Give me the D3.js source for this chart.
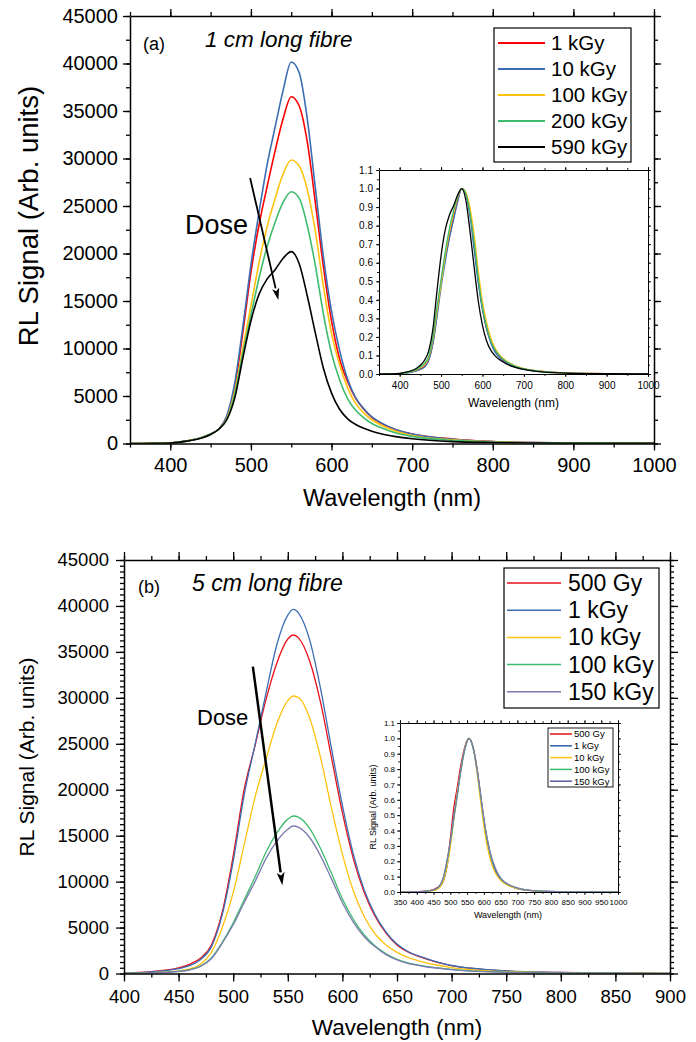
<!DOCTYPE html>
<html>
<head>
<meta charset="utf-8">
<script src="https://cdn.jsdelivr.net/npm/d3@7"></script>
<style>
  body { margin: 0; background: #fff; }
  svg { display: block; }
</style>
</head>
<body>
<div id="chart"></div>
<script>
const FONT = '"Liberation Sans", Arial, Helvetica, sans-serif';

// ---- panel (a): 1 cm long fibre ----
const wlA = [350, 380, 400, 420, 440, 450, 460, 470, 480, 490, 500, 510, 520, 530, 540, 550, 560, 570, 580, 590,
             600, 610, 620, 630, 640, 650, 660, 680, 700, 750, 800, 850, 900, 1000];
const a1kGy   = [0, 10, 60, 250, 650, 1000, 1500, 2800, 6000, 11700, 18000, 23000, 27000, 30800, 34200, 36500, 35500, 31700, 25300, 18550,
                 12900, 8900, 6500, 4750, 3600, 2750, 2200, 1450, 1000, 470, 210, 100, 45, 10];
const a10kGy  = [0, 10, 60, 250, 650, 1000, 1500, 2900, 6400, 12300, 18800, 24300, 29300, 33300, 37200, 40150, 39000, 34100, 26850, 19600,
                 13900, 9800, 6750, 4800, 3650, 2800, 2250, 1450, 1000, 450, 200, 95, 45, 10];
const a100kGy = [0, 10, 60, 250, 650, 1000, 1500, 2600, 5500, 10000, 14500, 19000, 22800, 25800, 28400, 29850, 29200, 26700, 22300, 16500,
                 11600, 8300, 5850, 4200, 3200, 2500, 2000, 1300, 850, 380, 170, 80, 40, 10];
const a200kGy = [0, 10, 60, 250, 650, 1000, 1500, 2500, 5200, 9500, 13500, 17400, 20700, 23300, 25400, 26500, 25800, 22900, 18700, 13600,
                 9500, 6700, 4700, 3500, 2700, 2100, 1700, 1100, 750, 330, 150, 70, 35, 10];
const a590kGy = [0, 10, 60, 250, 600, 950, 1500, 2500, 4800, 9000, 12900, 15700, 17300, 18300, 19500, 20200, 18900, 15500, 11600, 7900,
                 5300, 3600, 2600, 2000, 1600, 1300, 1050, 720, 500, 200, 100, 50, 25, 10];
const namesA = ["1 kGy", "10 kGy", "100 kGy", "200 kGy", "590 kGy"];
const colorsA = ["#ff0000", "#3b6db3", "#ffc20e", "#3dbb6e", "#000000"];
const seriesA = [a1kGy, a10kGy, a100kGy, a200kGy, a590kGy];

// ---- panel (b): 5 cm long fibre ----
const wlB = [350, 400, 425, 450, 460, 470, 480, 490, 500, 510, 520, 530, 540, 550, 555, 560, 570, 580, 590, 600,
             610, 620, 630, 640, 650, 660, 675, 700, 750, 800, 850, 900, 1000];
const b500Gy  = [0, 60, 200, 600, 1000, 1650, 3100, 6700, 12800, 20000, 24800, 29800, 33800, 36400, 36840, 36500, 34000, 29500, 23500, 17500,
                 12500, 8800, 6200, 4400, 3100, 2350, 1650, 850, 280, 110, 50, 20, 0];
const b1kGy   = [0, 50, 180, 520, 850, 1500, 2900, 6400, 12200, 19400, 24900, 30500, 35800, 39000, 39630, 39200, 36300, 31000, 24500, 18300,
                 13000, 9100, 6400, 4500, 3200, 2400, 1700, 870, 290, 110, 50, 20, 0];
const b10kGy  = [0, 30, 100, 280, 500, 1000, 2300, 5000, 8800, 14000, 19200, 23300, 27200, 29700, 30200, 30000, 27800, 23500, 18000, 13000,
                 9000, 6200, 4300, 3100, 2300, 1750, 1200, 650, 200, 80, 40, 15, 0];
const b100kGy = [0, 30, 80, 230, 400, 800, 1700, 3400, 5500, 8000, 10500, 13200, 15300, 16800, 17140, 17000, 15800, 13600, 10900, 8100,
                 5900, 4200, 3000, 2150, 1550, 1150, 800, 450, 140, 60, 30, 10, 0];
const b150kGy = [0, 30, 80, 220, 380, 760, 1600, 3300, 5300, 7700, 10000, 12500, 14400, 15700, 16050, 15900, 14800, 12800, 10300, 7700,
                 5600, 4000, 2900, 2050, 1480, 1100, 760, 430, 130, 55, 25, 10, 0];
const namesB = ["500 Gy", "1 kGy", "10 kGy", "100 kGy", "150 kGy"];
const colorsB = ["#e8101a", "#3b6db3", "#ffc20e", "#3dbb6e", "#7b7bb0"];
const seriesB = [b500Gy, b1kGy, b10kGy, b100kGy, b150kGy];

// dose arrows (data coordinates: start, tip)
const arrowA = [[499, 27950], [534, 15100]];
const arrowB = [[518, 33400], [545, 9600]];

const svg = d3.select("#chart").append("svg")
  .attr("width", 696).attr("height", 1042)
  .style("font-family", FONT);

function drawBox(g, x, y, c) {
  const [x0, x1] = x.range();
  const [yb, yt] = y.range();
  const makers = { bottom: d3.axisBottom, top: d3.axisTop, left: d3.axisLeft, right: d3.axisRight };
  const pos = {
    bottom: `translate(0,${yb})`, top: `translate(0,${yt})`,
    left: `translate(${x0},0)`, right: `translate(${x1},0)`
  };
  ["bottom", "top", "left", "right"].forEach(side => {
    const horiz = side === "bottom" || side === "top";
    const sc = horiz ? x : y;
    // minor ticks
    g.append("g").attr("transform", pos[side])
      .call(makers[side](sc).tickValues(horiz ? c.xMinor : c.yMinor).tickSize(c.minLen).tickFormat(""))
      .call(a => a.select(".domain").remove())
      .selectAll("line").attr("stroke-width", c.tickW);
    const ax = makers[side](sc)
      .tickValues(horiz ? c.xMajor : c.yMajor)
      .tickSize(c.majLen).tickSizeOuter(0)
      .tickPadding(horiz ? c.xPad : c.yPad);
    if (side === "top" || side === "right") ax.tickFormat("");
    else if (!horiz && c.yFmt) ax.tickFormat(c.yFmt);
    else ax.tickFormat(d3.format("d"));
    const a = g.append("g").attr("transform", pos[side]).call(ax)
      .attr("font-family", FONT).attr("font-size", c.font);
    a.select(".domain").attr("stroke-width", c.frameW);
    a.selectAll(".tick line").attr("stroke-width", c.tickW);
  });
}

function drawSeries(g, x, y, wl, series, colors, width, clipId, norm) {
  const line = d3.line()
    .x(d => x(d[0])).y(d => y(d[1]))
    .curve(d3.curveMonotoneX);
  const lg = g.append("g").attr("clip-path", `url(#${clipId})`);
  series.forEach((vals, i) => {
    const m = norm ? d3.max(vals) : 1;
    lg.append("path")
      .datum(d3.zip(wl, vals.map(v => v / m)))
      .attr("d", line)
      .attr("fill", "none")
      .attr("stroke", colors[i])
      .attr("stroke-width", width);
  });
}

function clip(id, x, y) {
  svg.append("clipPath").attr("id", id).append("rect")
    .attr("x", x.range()[0]).attr("y", y.range()[1])
    .attr("width", x.range()[1] - x.range()[0])
    .attr("height", y.range()[0] - y.range()[1]);
}

function drawArrow(g, x, y, pts, w, headLen, headW) {
  const [sx, sy] = [x(pts[0][0]), y(pts[0][1])];
  const [tx, ty] = [x(pts[1][0]), y(pts[1][1])];
  const ang = Math.atan2(ty - sy, tx - sx);
  const bx = tx - headLen * Math.cos(ang), by = ty - headLen * Math.sin(ang);
  g.append("line").attr("x1", sx).attr("y1", sy).attr("x2", bx).attr("y2", by)
    .attr("stroke", "#000").attr("stroke-width", w);
  const px = -Math.sin(ang) * headW, py = Math.cos(ang) * headW;
  g.append("path")
    .attr("d", `M${tx},${ty}L${bx + px},${by + py}L${bx + (tx - bx) * 0.25},${by + (ty - by) * 0.25}L${bx - px},${by - py}Z`)
    .attr("fill", "#000");
}

function drawLegend(g, names, colors, c) {
  g.append("rect").attr("x", c.x).attr("y", c.y).attr("width", c.w).attr("height", c.h)
    .attr("fill", "#fff").attr("stroke", "#000").attr("stroke-width", c.bw);
  names.forEach((n, i) => {
    const yy = c.y0 + i * c.step;
    g.append("line").attr("x1", c.lx0).attr("x2", c.lx1).attr("y1", yy).attr("y2", yy)
      .attr("stroke", colors[i]).attr("stroke-width", c.lw);
    g.append("text").attr("x", c.tx).attr("y", yy).attr("dy", "0.35em")
      .attr("font-size", c.font).text(n);
  });
}

// ================= Panel (a) =================
{
  const x = d3.scaleLinear().domain([350, 1000]).range([130, 654]);
  const y = d3.scaleLinear().domain([0, 45000]).range([443.5, 16]);
  const g = svg.append("g");
  clip("clipA", x, y);
  drawSeries(g, x, y, wlA, seriesA, colorsA, 1.6, "clipA", false);
  drawBox(g, x, y, {
    xMajor: d3.range(400, 1001, 100), xMinor: d3.range(350, 1001, 50),
    yMajor: d3.range(0, 45001, 5000), yMinor: d3.range(0, 45001, 2500),
    majLen: 7, minLen: 4, xPad: 7.5, yPad: 5, font: 20, frameW: 1.5, tickW: 1.3
  });
  g.append("text").attr("x", 143).attr("y", 50).attr("font-size", 18).text("(a)");
  g.append("text").attr("x", 205).attr("y", 47).attr("font-size", 22.5)
    .attr("font-style", "italic").text("1 cm long fibre");
  g.append("text").attr("x", 185).attr("y", 234).attr("font-size", 27).text("Dose");
  drawArrow(g, x, y, arrowA, 1.8, 12, 3.6);
  g.append("text").attr("x", 392).attr("y", 506).attr("text-anchor", "middle")
    .attr("font-size", 23.5).text("Wavelength (nm)");
  g.append("text").attr("transform", "translate(37.5,216) rotate(-90)")
    .attr("text-anchor", "middle").attr("font-size", 27.5).text("RL Signal (Arb. units)");
  drawLegend(g, namesA, colorsA, {
    x: 494, y: 28, w: 137, h: 134, bw: 1.2, y0: 43, step: 26,
    lx0: 498, lx1: 545, tx: 551, font: 20.5, lw: 2
  });

  // inset (normalised spectra)
  const xi = d3.scaleLinear().domain([350, 1000]).range([379, 648]);
  const yi = d3.scaleLinear().domain([0, 1.1]).range([374, 170]);
  g.append("rect").attr("x", 379).attr("y", 170).attr("width", 269).attr("height", 204).attr("fill", "#fff");
  clip("clipAi", xi, yi);
  drawSeries(g, xi, yi, wlA, seriesA, colorsA, 1.3, "clipAi", true);
  drawBox(g, xi, yi, {
    xMajor: d3.range(400, 1001, 100), xMinor: d3.range(350, 1001, 50),
    yMajor: d3.range(0, 11).map(i => i / 10).concat([1.1]), yMinor: d3.range(0, 23).map(i => i / 20),
    majLen: 3, minLen: 2, xPad: 4.5, yPad: 3, font: 10, frameW: 1, tickW: 0.9, yFmt: d3.format(".1f")
  });
  g.append("text").attr("x", 513.5).attr("y", 407).attr("text-anchor", "middle")
    .attr("font-size", 12).text("Wavelength (nm)");
}

// ================= Panel (b) =================
{
  const x = d3.scaleLinear().domain([400, 900]).range([124, 670]);
  const y = d3.scaleLinear().domain([0, 45000]).range([973.5, 560]);
  const g = svg.append("g");
  clip("clipB", x, y);
  drawSeries(g, x, y, wlB, seriesB, colorsB, 1.3, "clipB", false);
  drawBox(g, x, y, {
    xMajor: d3.range(400, 901, 50), xMinor: d3.range(400, 901, 25),
    yMajor: d3.range(0, 45001, 5000), yMinor: d3.range(0, 45001, 625),
    majLen: 8, minLen: 4, xPad: 8.5, yPad: 7, font: 18.5, frameW: 1.5, tickW: 1.3
  });
  g.append("text").attr("x", 138).attr("y", 593).attr("font-size", 18).text("(b)");
  g.append("text").attr("x", 192).attr("y", 591).attr("font-size", 23)
    .attr("font-style", "italic").text("5 cm long fibre");
  g.append("text").attr("x", 197).attr("y", 725).attr("font-size", 22).text("Dose");
  drawArrow(g, x, y, arrowB, 2.5, 13, 4);
  g.append("text").attr("x", 397).attr("y", 1035).attr("text-anchor", "middle")
    .attr("font-size", 22.5).text("Wavelength (nm)");
  g.append("text").attr("transform", "translate(34,757) rotate(-90)")
    .attr("text-anchor", "middle").attr("font-size", 21).text("RL Signal (Arb. units)");
  drawLegend(g, namesB, colorsB, {
    x: 504, y: 568, w: 155, h: 140, bw: 1.2, y0: 583, step: 27.2,
    lx0: 507, lx1: 561, tx: 568, font: 23, lw: 1.5
  });

  // inset (normalised spectra)
  const xi = d3.scaleLinear().domain([350, 1000]).range([400, 618]);
  const yi = d3.scaleLinear().domain([0, 1.1]).range([892, 723]);
  g.append("rect").attr("x", 400).attr("y", 723).attr("width", 218).attr("height", 169).attr("fill", "#fff");
  clip("clipBi", xi, yi);
  drawSeries(g, xi, yi, wlB, seriesB, colorsB, 1.2, "clipBi", true);
  drawBox(g, xi, yi, {
    xMajor: d3.range(350, 1001, 50), xMinor: d3.range(350, 1001, 25),
    yMajor: d3.range(0, 11).map(i => i / 10).concat([1.1]), yMinor: d3.range(0, 23).map(i => i / 20),
    majLen: 3, minLen: 2, xPad: 4, yPad: 2, font: 8, frameW: 1, tickW: 0.8, yFmt: d3.format(".1f")
  });
  g.append("text").attr("x", 508).attr("y", 918).attr("text-anchor", "middle")
    .attr("font-size", 9).text("Wavelength (nm)");
  g.append("text").attr("transform", "translate(376,807) rotate(-90)")
    .attr("text-anchor", "middle").attr("font-size", 9).text("RL Signal (Arb. units)");
  drawLegend(g, namesB, ["#e8101a", "#2f5fa8", "#ffc20e", "#3dbb6e", "#5c5ca0"], {
    x: 548, y: 728, w: 65, h: 59, bw: 0.9, y0: 734, step: 11.8,
    lx0: 550, lx1: 572, tx: 574, font: 9.5, lw: 1.5
  });
}
</script>
</body>
</html>
